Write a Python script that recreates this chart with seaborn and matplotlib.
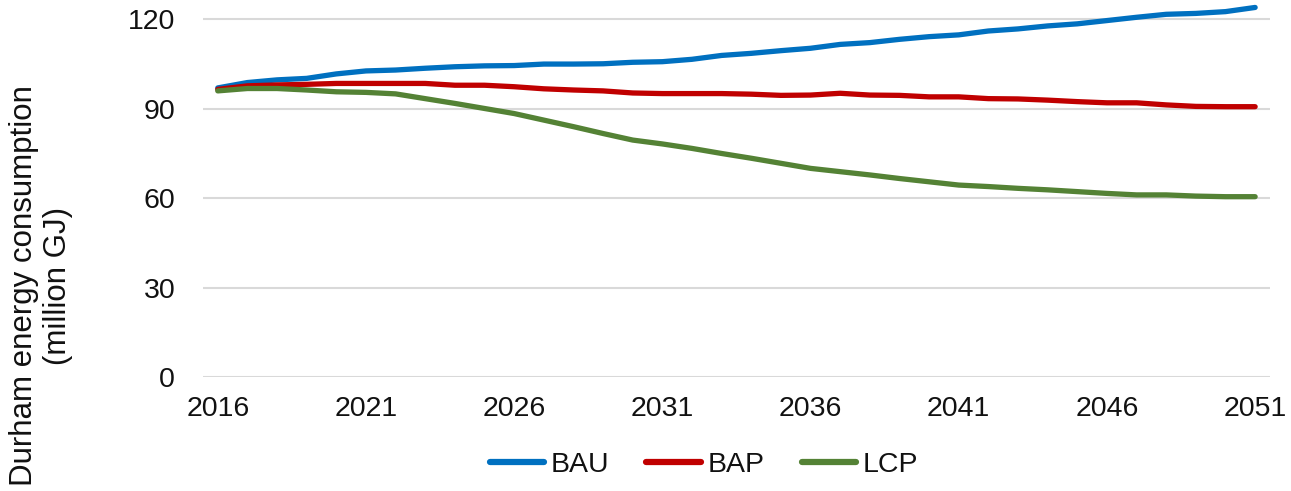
import pandas as pd
import matplotlib
matplotlib.use("Agg")
import matplotlib.pyplot as plt
import seaborn as sns

# data (million GJ, yearly)
years = list(range(2016, 2052))
bau = [97.0, 98.8, 99.7, 100.2, 101.7, 102.7, 103.0, 103.6, 104.1, 104.4,
       104.5, 105.0, 105.0, 105.1, 105.6, 105.8, 106.6, 107.9, 108.6, 109.5,
       110.3, 111.6, 112.2, 113.3, 114.2, 114.8, 116.1, 116.8, 117.8, 118.5,
       119.6, 120.7, 121.7, 122.0, 122.6, 124.0]
bap = [96.5, 97.7, 98.0, 98.2, 98.5, 98.5, 98.5, 98.5, 97.9, 97.9,
       97.4, 96.7, 96.3, 96.0, 95.3, 95.1, 95.1, 95.1, 94.9, 94.5,
       94.6, 95.2, 94.6, 94.5, 94.0, 94.0, 93.4, 93.3, 92.9, 92.4,
       92.0, 92.0, 91.3, 90.8, 90.7, 90.7]
lcp = [96.0, 96.8, 96.8, 96.3, 95.7, 95.5, 95.0, 93.4, 91.8, 90.1,
       88.4, 86.2, 84.0, 81.7, 79.5, 78.2, 76.7, 75.0, 73.4, 71.7,
       70.0, 68.9, 67.8, 66.6, 65.5, 64.4, 63.9, 63.3, 62.8, 62.2,
       61.6, 61.1, 61.1, 60.7, 60.5, 60.5]
scenarios = ["BAU", "BAP", "LCP"]
colors = ["#0070C0", "#C00000", "#548235"]
x_ticks = list(range(2016, 2052, 5))
y_ticks = [0, 30, 60, 90, 120]

df = pd.DataFrame({
    "Year": years * 3,
    "Energy": bau + bap + lcp,
    "Scenario": [s for s in scenarios for _ in years],
})

sns.set_style("white")
plt.rcParams["font.family"] = ["Liberation Sans", "DejaVu Sans"]

fig = plt.figure(figsize=(12.91, 4.91), dpi=100)
ax = fig.add_axes([0.1572, 0.2322, 0.8265, 0.7678])

sns.lineplot(data=df, x="Year", y="Energy", hue="Scenario",
             palette=dict(zip(scenarios, colors)), linewidth=3.8,
             ax=ax, legend=False)

ax.set_xlim(2015.5, 2051.5)
ax.set_ylim(0, 126.5)
ax.set_xticks(x_ticks)
ax.set_yticks(y_ticks)
ax.tick_params(axis="both", length=0, labelsize=20.5, colors="#111111")
ax.tick_params(axis="x", pad=14)
ax.tick_params(axis="y", pad=20)
ax.grid(axis="y", color="#D9D9D9", linewidth=1.5)
ax.grid(axis="x", visible=False)
for s in ax.spines.values():
    s.set_visible(False)
ax.set_xlabel("")
ax.set_ylabel("")

fig.text(41 / 1291, 1 - 286 / 491, "Durham energy consumption\n(million GJ)",
         rotation=90, ha="center", va="center", multialignment="center",
         fontsize=22.5, color="#111111", linespacing=1.15)

handles = [plt.Line2D([], [], color=c, linewidth=4.5) for c in colors]
fig.legend(handles, scenarios, loc="center",
           bbox_to_anchor=(704 / 1291, 1 - 465 / 491), ncol=3, frameon=False,
           fontsize=20.5, handlelength=1.9, handletextpad=0.25,
           columnspacing=1.3, labelcolor="#111111")

fig.savefig("out.png", dpi=100)
